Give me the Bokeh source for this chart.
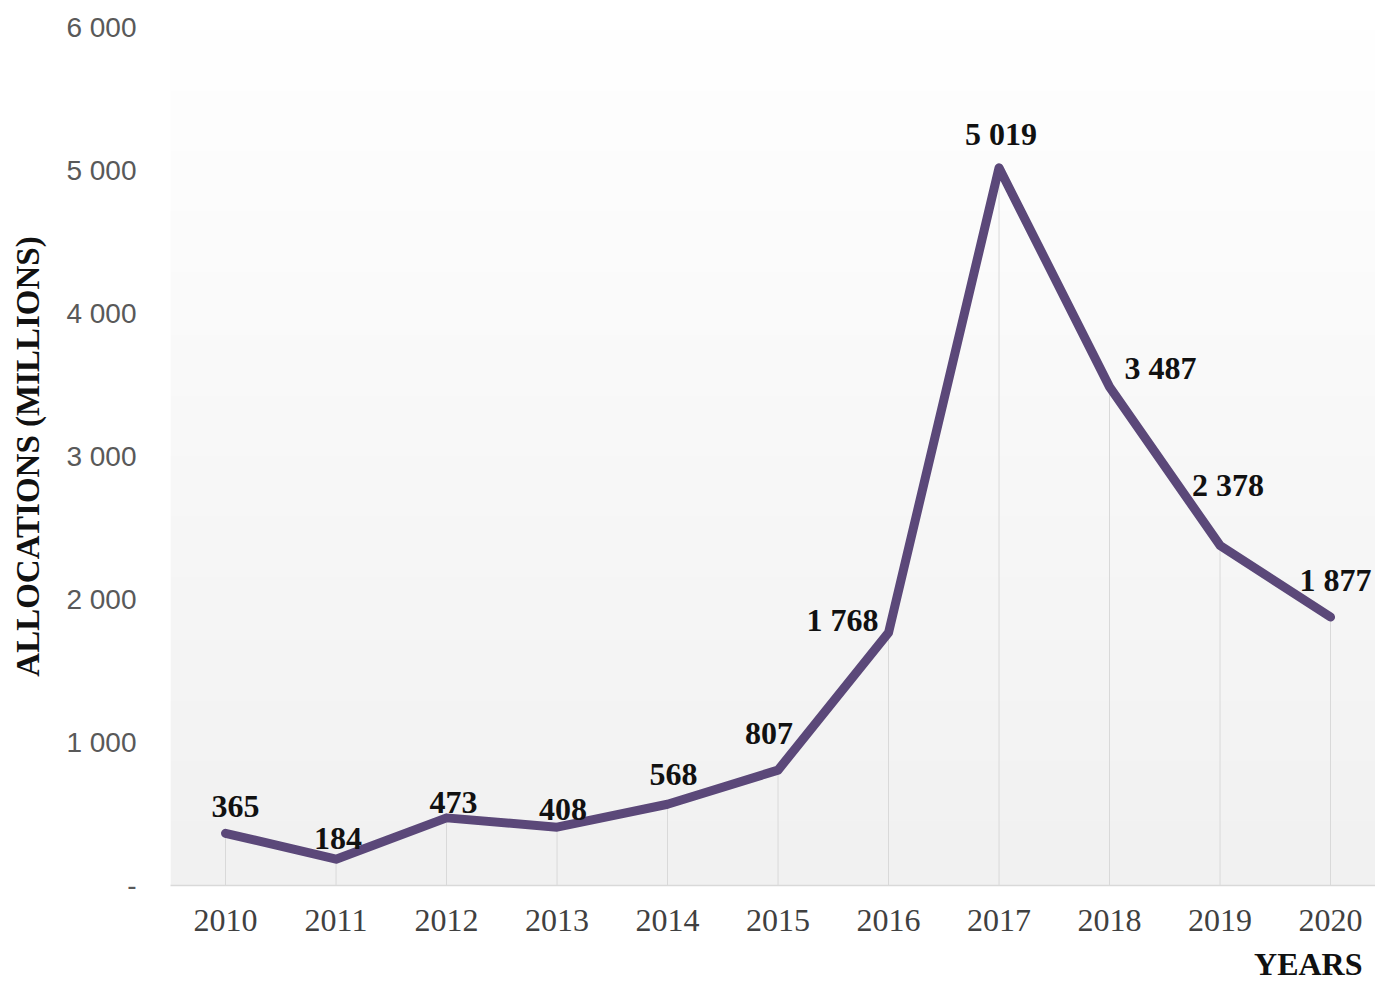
import numpy as np
from bokeh.plotting import figure
from bokeh.models import ColumnDataSource, Title, FixedTicker
from bokeh.embed import file_html
from bokeh.resources import INLINE
from bokeh.core.properties import value

# ---- data ----
years = [2010, 2011, 2012, 2013, 2014, 2015, 2016, 2017, 2018, 2019, 2020]
allocations = [365, 184, 473, 408, 568, 807, 1768, 5019, 3487, 2378, 1877]
value_labels = ["365", "184", "473", "408", "568", "807", "1 768", "5 019", "3 487", "2 378", "1 877"]
y_ticks = [0, 1000, 2000, 3000, 4000, 5000, 6000]
y_tick_labels = ["-", "1 000", "2 000", "3 000", "4 000", "5 000", "6 000"]

# label placement (screen pixel offsets, layout only)
label_dx = [10, 2, 7, 6, 6, -9, -46, 2, 51, 8, 5]
label_dy = [-27, -21, -15, -18, -30, -37, -13, -34, -19, -60, -37]

LINE_COLOR = "#5b4879"
SERIF = "Liberation Serif"
SANS = "Liberation Sans"

X0, X1 = 2009.502, 2020.407
p = figure(width=1375, height=991, output_backend="svg", toolbar_location=None,
           x_range=(X0, X1), y_range=(0, 6000),
           min_border_left=170, min_border_right=0, min_border_top=27, min_border_bottom=106)
p.outline_line_color = None
p.background_fill_color = "white"
p.border_fill_color = "white"
p.xgrid.grid_line_color = None
p.ygrid.grid_line_color = None

# background vertical gradient inside the plot area
N = 256
img = np.empty((N, 1), dtype=np.uint32)
view = img.view(dtype=np.uint8).reshape((N, 1, 4))
shade = np.linspace(241, 255, N).astype(np.uint8)
view[:, 0, 0] = shade
view[:, 0, 1] = shade
view[:, 0, 2] = shade
view[:, 0, 3] = 255
p.image_rgba(image=[img], x=X0, y=0, dw=X1 - X0, dh=6000, level="image")

src = ColumnDataSource(dict(x=years, y=allocations, zero=[0] * len(years),
                            lab=value_labels, dx=label_dx, dy=label_dy))

# drop lines
p.segment(x0="x", y0="zero", x1="x", y1="y", source=src, line_color="#d9d9d9", line_width=1)

# main line
p.line(x="x", y="y", source=src, line_color=LINE_COLOR, line_width=9, line_join="round", line_cap="round")

# data labels
p.text(x="x", y="y", text="lab", x_offset="dx", y_offset="dy", source=src,
       text_font=value(SERIF), text_font_style="bold", text_font_size="32px",
       text_color="#111111", text_align="center", text_baseline="middle")

# x axis
xa = p.xaxis[0]
xa.ticker = FixedTicker(ticks=years)
xa.axis_line_color = "#d9d9d9"
xa.axis_line_width = 1.5
xa.major_tick_line_color = None
xa.minor_tick_line_color = None
xa.major_label_text_font = SERIF
xa.major_label_text_font_size = "32px"
xa.major_label_text_color = "#404040"
xa.major_label_standoff = 18

# y axis
ya = p.yaxis[0]
ya.ticker = FixedTicker(ticks=y_ticks)
ya.major_label_overrides = {t: l for t, l in zip(y_ticks, y_tick_labels)}
ya.axis_line_color = None
ya.major_tick_line_color = None
ya.minor_tick_line_color = None
ya.major_label_text_font = SANS
ya.major_label_text_font_size = "28px"
ya.major_label_text_color = "#595959"
ya.major_label_standoff = 28
ya.axis_label = "ALLOCATIONS (MILLIONS)"
ya.axis_label_text_font = SERIF
ya.axis_label_text_font_style = "bold"
ya.axis_label_text_font_size = "33px"
ya.axis_label_text_color = "#111111"
ya.axis_label_standoff = 17

p.add_layout(Title(text="YEARS", align="right", offset=13, standoff=20,
                   text_font=SERIF, text_font_style="bold", text_font_size="32px",
                   text_color="#111111"), "below")

open("out.html", "w").write(file_html(p, INLINE))
